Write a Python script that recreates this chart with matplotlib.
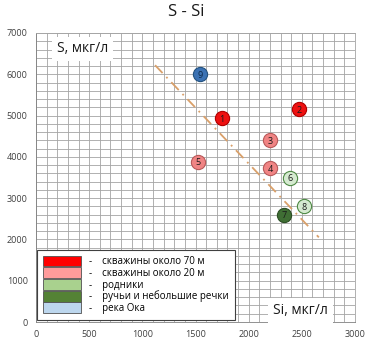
import matplotlib
matplotlib.use("Agg")
import matplotlib.pyplot as plt
from matplotlib.patches import Patch
from matplotlib.ticker import MultipleLocator

plt.rcParams['font.family'] = ['Open Sans', 'DejaVu Sans']

# data
point_ids = ['1', '2', '3', '4', '5', '6', '7', '8', '9']
si_values = [1750, 2470, 2200, 2200, 1520, 2390, 2330, 2520, 1540]
s_values = [4930, 5150, 4400, 3720, 3880, 3500, 2600, 2800, 6000]
groups = ['w70', 'w70', 'w20', 'w20', 'w20', 'spring', 'stream', 'spring', 'oka']

group_names = ['w70', 'w20', 'spring', 'stream', 'oka']
group_labels = ['скважины около 70 м', 'скважины около 20 м', 'родники',
                'ручьи и небольшие речки', 'река Ока']

trend_si = [1120, 2660]
trend_s = [6220, 2050]

x_ticks = [0, 500, 1000, 1500, 2000, 2500, 3000]
y_ticks = [0, 1000, 2000, 3000, 4000, 5000, 6000, 7000]

# styles
legend_colors = {'w70': '#ff0000', 'w20': '#ff9b9b', 'spring': '#a9d18e',
                 'stream': '#548235', 'oka': '#bdd7ee'}
marker_face = {'w70': '#ee1111', 'w20': '#f08484', 'spring': '#d5ead0',
               'stream': '#3f6e34', 'oka': '#3b72b4'}
marker_edge = {'w70': '#b00000', 'w20': '#b85a5a', 'spring': '#4f8a45',
               'stream': '#2c4f24', 'oka': '#24527f'}

fig = plt.figure(figsize=(3.69, 3.51), dpi=100)
ax = fig.add_axes([36 / 369, 29 / 351, 319 / 369, 289 / 351])

ax.set_xlim(0, 3000)
ax.set_ylim(0, 7000)
ax.xaxis.set_minor_locator(MultipleLocator(100))
ax.yaxis.set_minor_locator(MultipleLocator(200))
ax.set_xticks(x_ticks)
ax.set_yticks(y_ticks)
ax.grid(True, which='both', color='#a4a4a4', linewidth=0.6)
ax.set_axisbelow(True)
ax.tick_params(which='both', length=0, labelsize=6.5, colors='#404040', pad=6)
for sp in ax.spines.values():
    sp.set_color('#a4a4a4')
    sp.set_linewidth(0.6)
ax.spines['left'].set_color('#808080')
ax.spines['bottom'].set_color('#808080')

ax.plot(trend_si, trend_s, color='#d9a06a', linestyle=(0, (6, 3, 1, 3)),
        linewidth=1.3, zorder=2)

for pid, xv, yv, g in zip(point_ids, si_values, s_values, groups):
    ax.scatter([xv], [yv], s=105, color=marker_face[g], edgecolors=marker_edge[g],
               linewidths=0.8, zorder=3)
    ax.text(xv, yv - 20, pid, ha='center', va='center', fontsize=6.5,
            color='#1a1a1a' if g != 'oka' else '#0d2a4a', zorder=4)

ax.text(0.145, 0.945, 'S, мкг/л', transform=ax.transAxes, ha='center', va='center',
        fontsize=10, color='#1a1a1a',
        bbox=dict(boxstyle='square,pad=0.35', facecolor='white', edgecolor='none'),
        zorder=5)
ax.text(0.83, 0.04, 'Si, мкг/л', transform=ax.transAxes, ha='center', va='center',
        fontsize=10, color='#1a1a1a',
        bbox=dict(boxstyle='square,pad=0.35', facecolor='white', edgecolor='none'),
        zorder=5)

handles = [Patch(facecolor=legend_colors[g], edgecolor='#505050', linewidth=0.6)
           for g in group_names]
labels = ['-    ' + l for l in group_labels]
leg = ax.legend(handles, labels, loc='lower left', bbox_to_anchor=(0.003, 0.007),
                fontsize=7, frameon=True, fancybox=False, edgecolor='#404040',
                framealpha=1, handlelength=3.9, handleheight=1.35, labelspacing=0,
                handletextpad=0.9, borderpad=0.6, borderaxespad=0)
leg.get_frame().set_linewidth(0.8)
leg.set_zorder(6)

fig.text(0.505, 0.965, 'S - Si', ha='center', va='center', fontsize=12, color='#1a1a1a')

fig.savefig('out.png', dpi=100)
